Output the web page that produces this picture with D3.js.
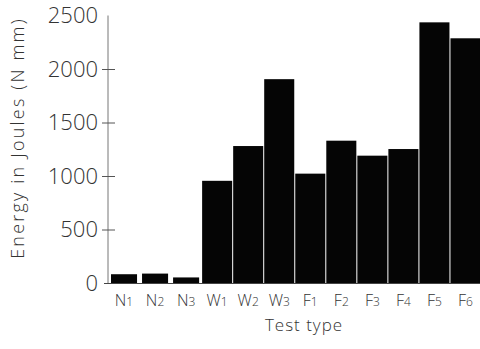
<!DOCTYPE html>
<html>
<head>
<meta charset="utf-8">
<script src="https://cdn.jsdelivr.net/npm/d3@7"></script>
<style>
  html, body { margin: 0; padding: 0; background: #fff; }
  svg { display: block; }
  text { font-family: "Open Sans", "Liberation Sans", sans-serif; font-weight: 300; fill: #333; }
</style>
</head>
<body>
<svg id="chart" width="480" height="349"></svg>
<script>
// ---- data ----
const letters = ["N","N","N","W","W","W","F","F","F","F","F","F"];
const subs    = ["1","2","3","1","2","3","1","2","3","4","5","6"];
const categories = letters.map((l, i) => l + subs[i]);
const values = [82, 88, 52, 955, 1280, 1905, 1022, 1330, 1190, 1252, 2436, 2287];
const yTicks = [0, 500, 1000, 1500, 2000, 2500];
const yTitle = "Energy in Joules (N mm)";
const xTitle = "Test type";

// ---- layout ----
const svg = d3.select("#chart");
const x = d3.scaleBand().domain(categories).range([108.5, 481]).padding(0);
const y = d3.scaleLinear().domain([0, 2500]).range([283, 15.5]);

// bars
svg.append("g").selectAll("rect")
  .data(categories)
  .join("rect")
  .attr("x", (d, i) => x(d) + (letters[i] === "N" ? 2.5 : 0.5))
  .attr("width", (d, i) => x.bandwidth() - (letters[i] === "N" ? 5 : 1))
  .attr("y", (d, i) => y(values[i]))
  .attr("height", (d, i) => y(0) - y(values[i]))
  .attr("fill", "#050505");

// y axis line
svg.append("line")
  .attr("x1", 108).attr("x2", 108)
  .attr("y1", y(2500)).attr("y2", y(0))
  .attr("stroke", "#777").attr("stroke-width", 1);

// x axis line
svg.append("line")
  .attr("x1", 104).attr("x2", 480)
  .attr("y1", y(0) + 0.5).attr("y2", y(0) + 0.5)
  .attr("stroke", "#444").attr("stroke-width", 1);

// y ticks
const tg = svg.append("g");
tg.selectAll("line")
  .data(yTicks.filter(t => t > 0 && t < 2500))
  .join("line")
  .attr("x1", 102).attr("x2", 115)
  .attr("y1", d => y(d) + 0.5).attr("y2", d => y(d) + 0.5)
  .attr("stroke", "#555").attr("stroke-width", 1);

tg.selectAll("text")
  .data(yTicks)
  .join("text")
  .attr("x", 98)
  .attr("y", d => y(d))
  .attr("dy", "0.36em")
  .attr("text-anchor", "end")
  .attr("font-size", 22)
  .attr("fill", "#666")
  .text(d => d);

// x tick labels with subscripts
const xl = svg.append("g").selectAll("text")
  .data(categories)
  .join("text")
  .attr("x", d => x(d) + x.bandwidth() / 2)
  .attr("y", 306)
  .attr("text-anchor", "middle")
  .attr("font-size", 16)
  .attr("fill", "#333");
xl.append("tspan").text((d, i) => letters[i]);
xl.append("tspan").attr("font-size", 12).text((d, i) => subs[i]);

// axis titles
svg.append("text")
  .attr("x", 304).attr("y", 331)
  .attr("text-anchor", "middle")
  .attr("font-size", 17)
  .attr("letter-spacing", 1)
  .attr("fill", "#444")
  .text(xTitle);

svg.append("text")
  .attr("transform", "translate(24,138) rotate(-90)")
  .attr("text-anchor", "middle")
  .attr("font-size", 18)
  .attr("letter-spacing", 2.2)
  .attr("fill", "#777")
  .text(yTitle);
</script>
</body>
</html>
